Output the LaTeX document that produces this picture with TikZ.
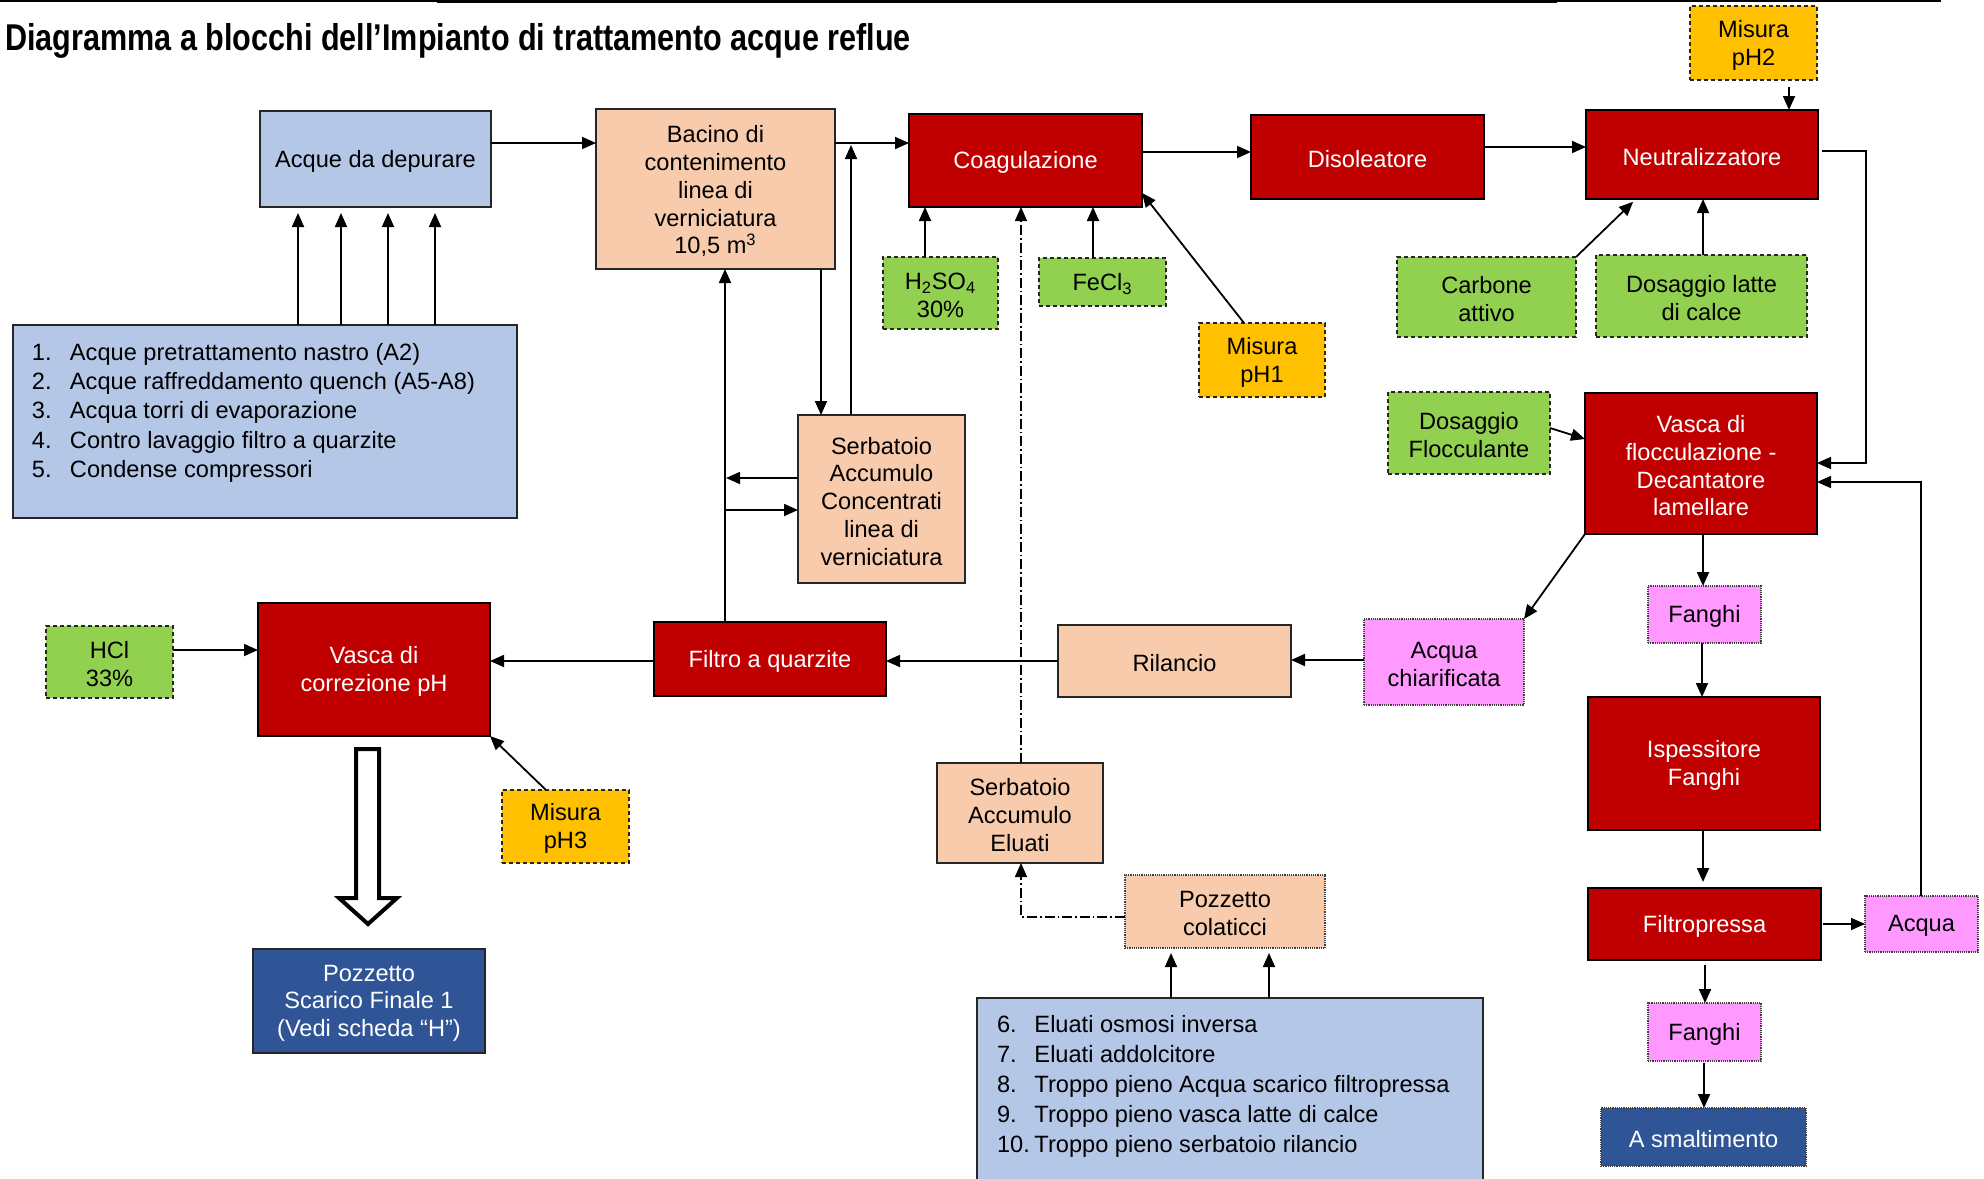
\documentclass[tikz,border=0pt]{standalone}
\usepackage{fontspec}
\setmainfont{Liberation Sans}
\newfontfamily\titlefont[FakeStretch=0.82]{Liberation Sans}
\usetikzlibrary{arrows.meta,calc}
\definecolor{cblue}{HTML}{B4C7E7}
\definecolor{cpeach}{HTML}{F8CBAD}
\definecolor{cred}{HTML}{C00000}
\definecolor{cgreen}{HTML}{92D050}
\definecolor{cyell}{HTML}{FFC000}
\definecolor{cpink}{HTML}{FF99FF}
\definecolor{cnavy}{HTML}{2F5597}
\newcommand\BX[7]{%
  \pgfmathsetmacro\bxw{(#5-#3)*0.5}%
  \pgfmathsetmacro\bxh{(#6-#4)*0.5}%
  \node[#2, minimum width=\bxw pt, minimum height=\bxh pt] (#1) at ({(#3+#5)/2},{(#4+#6)/2}) {};
  \node[#2, draw=none, fill=none, yshift=-1.1pt] (#1-txt) at (#1.center) {#7};}
\tikzset{
  every node/.style={font=\fontsize{11.8}{13.9}\selectfont, align=center, inner sep=0pt, outer sep=0pt},
  solidbox/.style={draw=black!85, line width=0.8pt},
  bluebox/.style={solidbox, fill=cblue},
  peachbox/.style={solidbox, fill=cpeach},
  redbox/.style={solidbox, draw=black, fill=cred, text=white},
  navybox/.style={solidbox, fill=cnavy, text=white},
  greenbox/.style={draw=black!85, line width=0.8pt, dash pattern=on 2pt off 1.5pt, fill=cgreen},
  yellbox/.style={draw=black!85, line width=0.8pt, dash pattern=on 2pt off 1.5pt, fill=cyell},
  pinkbox/.style={draw=black!75, line width=0.6pt, dash pattern=on 0.6pt off 0.5pt, fill=cpink},
  dotpeach/.style={draw=black!75, line width=0.6pt, dash pattern=on 0.6pt off 0.5pt, fill=cpeach},
  dotnavy/.style={draw=black!75, line width=0.6pt, dash pattern=on 0.6pt off 0.5pt, fill=cnavy, text=white},
  arr/.style={-{Triangle[length=7pt,width=6pt]}, line width=0.9pt},
  dashdot/.style={line width=0.7pt, dash pattern=on 5pt off 1.5pt on 0.8pt off 1.5pt},
  item/.style={anchor=base west},
}
\begin{document}
\begin{tikzpicture}[x=0.5pt,y=-0.5pt]
\useasboundingbox (0,0) rectangle (1984,1178);
% top rules
\draw[line width=1.3pt] (0,1) -- (437,1);
\draw[line width=1.8pt] (437,1.5) -- (1557,1.5);
\draw[line width=0.9pt] (1557,1) -- (1941,1);
% title
\node[anchor=base west, font=\titlefont\bfseries\fontsize{18.65}{20}\selectfont] (title) at (5,50)
  {Diagramma a blocchi dell’Impianto di trattamento acque reflue};
% boxes
\BX{acq}{bluebox}{260}{111}{491}{207}{Acque da depurare}
\BX{list1}{bluebox}{13}{325}{517}{518}{}
\BX{bacino}{peachbox}{596}{109}{835}{269}{Bacino di\\contenimento\\linea di\\verniciatura\\10,5 m\textsuperscript{3}}
\BX{coag}{redbox}{909}{114}{1142}{207}{Coagulazione}
\BX{disol}{redbox}{1251}{115}{1484}{199}{Disoleatore}
\BX{neutr}{redbox}{1586}{110}{1818}{199}{Neutralizzatore}
\BX{ph2}{yellbox}{1690}{6}{1817}{80}{Misura\\pH2}
\BX{h2so4}{greenbox}{883}{257}{998}{329}{H\textsubscript{2}SO\textsubscript{4}\\30\%}
\BX{fecl3}{greenbox}{1039}{258}{1166}{306}{FeCl\textsubscript{3}}
\BX{ph1}{yellbox}{1199}{323}{1325}{397}{Misura\\pH1}
\BX{carbone}{greenbox}{1397}{257}{1576}{337}{Carbone\\attivo}
\BX{latte}{greenbox}{1596}{255}{1807}{337}{Dosaggio latte\\di calce}
\BX{floc}{greenbox}{1388}{392}{1550}{474}{Dosaggio\\Flocculante}
\BX{vfloc}{redbox}{1585}{393}{1817}{534}{Vasca di\\flocculazione -\\Decantatore\\lamellare}
\BX{conc}{peachbox}{798}{415}{965}{583}{Serbatoio\\Accumulo\\Concentrati\\linea di\\verniciatura}
\BX{hcl}{greenbox}{46}{626}{173}{698}{HCl\\33\%}
\BX{vph}{redbox}{258}{603}{490}{736}{Vasca di\\correzione pH}
\BX{filtro}{redbox}{654}{622}{886}{696}{Filtro a quarzite}
\BX{rilancio}{peachbox}{1058}{625}{1291}{697}{Rilancio}
\BX{chiar}{pinkbox}{1364}{619}{1524}{705}{Acqua\\chiarificata}
\BX{fanghi1}{pinkbox}{1648}{586}{1761}{643}{Fanghi}
\BX{isp}{redbox}{1588}{697}{1820}{830}{Ispessitore\\Fanghi}
\BX{fpress}{redbox}{1588}{888}{1821}{960}{Filtropressa}
\BX{acqua}{pinkbox}{1865}{896}{1978}{952}{Acqua}
\BX{fanghi2}{pinkbox}{1648}{1003}{1761}{1061}{Fanghi}
\BX{smalt}{dotnavy}{1601}{1108}{1806}{1166}{A smaltimento}
\BX{ph3}{yellbox}{502}{790}{629}{863}{Misura\\pH3}
\BX{scarico}{navybox}{253}{949}{485}{1053}{Pozzetto\\Scarico Finale 1\\(Vedi scheda “H”)}
\BX{eluati}{peachbox}{937}{763}{1103}{863}{Serbatoio\\Accumulo\\Eluati}
\BX{colat}{dotpeach}{1125}{875}{1325}{948}{Pozzetto\\colaticci}
\BX{list2}{bluebox}{977}{998}{1483}{1182}{}
% list texts
\node[item] (a1) at (32,360) {\makebox[19pt][l]{1.}Acque pretrattamento nastro (A2)};
\node[item] (a2) at (32,389) {\makebox[19pt][l]{2.}Acque raffreddamento quench (A5-A8)};
\node[item] (a3) at (32,418) {\makebox[19pt][l]{3.}Acqua torri di evaporazione};
\node[item] (a4) at (32,448) {\makebox[19pt][l]{4.}Contro lavaggio filtro a quarzite};
\node[item] (a5) at (32,477) {\makebox[19pt][l]{5.}Condense compressori};
\node[item] (b6) at (997,1032) {\makebox[18.75pt][l]{6.}Eluati osmosi inversa};
\node[item] (b7) at (997,1062) {\makebox[18.75pt][l]{7.}Eluati addolcitore};
\node[item] (b8) at (997,1092) {\makebox[18.75pt][l]{8.}Troppo pieno Acqua scarico filtropressa};
\node[item] (b9) at (997,1122) {\makebox[18.75pt][l]{9.}Troppo pieno vasca latte di calce};
\node[item] (b10) at (997,1152) {\makebox[18.75pt][l]{10.}Troppo pieno serbatoio rilancio};
% connectors
\foreach \xx in {298,341,388,435}
  \draw[arr, shorten >=3pt] (\xx,0 |- list1.north) -- (\xx,0 |- acq.south);
\draw[arr] (acq.east |- 0,143) -- (bacino.west |- 0,143);
\draw[arr] (bacino.east |- 0,143) -- (coag.west |- 0,143);
\coordinate (j1) at (851,145);
\draw[arr] (851,0 |- conc.north) -- (j1);
\draw[arr] (821,0 |- bacino.south) -- (821,0 |- conc.north);
\draw[arr] (725,0 |- filtro.north) -- (725,0 |- bacino.south);
\draw[arr] (conc.west |- 0,478) -- (726,478);
\draw[arr] (725,510) -- (conc.west |- 0,510);
\draw[arr] (925,0 |- h2so4.north) -- (925,0 |- coag.south);
\draw[arr] (1093,0 |- fecl3.north) -- (1093,0 |- coag.south);
\draw[arr] (1244,0 |- ph1.north) -- (coag.east |- 0,193);
\draw[dashdot, -{Triangle[length=7pt,width=6pt]}] (1021,0 |- eluati.north) -- (1021,0 |- coag.south);
\draw[dashdot, -{Triangle[length=7pt,width=6pt]}] (colat.west |- 0,917) -- (1021,917) -- (1021,0 |- eluati.south);
\draw[arr, shorten >=2.5pt] (1171,0 |- list2.north) -- (1171,0 |- colat.south);
\draw[arr, shorten >=2.5pt] (1269,0 |- list2.north) -- (1269,0 |- colat.south);
\draw[arr] (coag.east |- 0,152) -- (disol.west |- 0,152);
\draw[arr] (disol.east |- 0,147) -- (neutr.west |- 0,147);
\draw[arr, shorten <=3.5pt] (1789,0 |- ph2.south) -- (1789,0 |- neutr.north);
\draw[arr] ([xshift=2pt]neutr.east |- 0,151) -- (1866,151) -- (1866,463) -- (vfloc.east |- 0,463);
\draw[arr, shorten >=2pt] (carbone.north east) -- (1636,0 |- neutr.south);
\draw[arr] (1703,0 |- latte.north) -- (1703,0 |- neutr.south);
\draw[arr] (floc.east |- 0,428) -- (vfloc.west |- 0,439);
\draw[arr] (vfloc.south west) -- (chiar.north east);
\draw[arr] (chiar.west |- 0,660) -- (rilancio.east |- 0,660);
\draw[arr] (rilancio.west |- 0,661) -- (filtro.east |- 0,661);
\draw[arr] (filtro.west |- 0,661) -- (vph.east |- 0,661);
\draw[arr] (hcl.east |- 0,650) -- (vph.west |- 0,650);
\draw[arr] (546,0 |- ph3.north) -- (vph.south east);
\draw[arr] (1703,0 |- vfloc.south) -- (1703,0 |- fanghi1.north);
\draw[arr] (1702,0 |- fanghi1.south) -- (1702,0 |- isp.north);
\draw[arr, shorten >=3pt] (1703,0 |- isp.south) -- (1703,0 |- fpress.north);
\draw[arr, shorten <=1pt] (fpress.east |- 0,924) -- (acqua.west |- 0,924);
\draw[arr] (1921,0 |- acqua.north) -- (1921,482) -- (vfloc.east |- 0,482);
\draw[arr, shorten <=2.5pt] (1705,0 |- fpress.south) -- (1705,0 |- fanghi2.north);
\draw[arr, shorten <=1pt] (1704,0 |- fanghi2.south) -- (1704,0 |- smalt.north);
% hollow discharge arrow
\draw[line width=2pt, fill=white, line join=miter] (356,749) -- (379,749) -- (379,898) -- (397,898) -- (368,924) -- (339,898) -- (356,898) -- cycle;
\end{tikzpicture}
\end{document}
